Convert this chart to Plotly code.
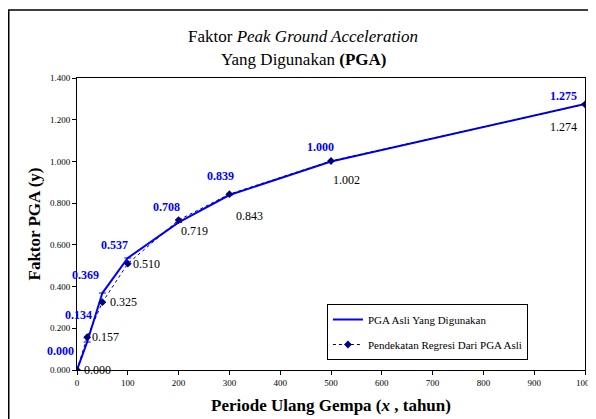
import plotly.graph_objects as go

# Data
periode = [0, 20, 50, 100, 200, 300, 500, 1000]
pga_asli = [0.000, 0.134, 0.369, 0.537, 0.708, 0.839, 1.000, 1.275]
pga_regresi = [0.000, 0.157, 0.325, 0.510, 0.719, 0.843, 1.002, 1.274]
x_ticks = [0, 100, 200, 300, 400, 500, 600, 700, 800, 900, 1000]
y_ticks = [0.0, 0.2, 0.4, 0.6, 0.8, 1.0, 1.2, 1.4]

FONT = "Liberation Serif"

fig = go.Figure()
fig.add_trace(go.Scatter(
    x=periode, y=pga_asli, mode="lines+markers",
    name="PGA Asli Yang Digunakan", legendgroup="a",
    line=dict(color="#0000FF", width=2),
    marker=dict(symbol="line-ew", size=5, color="#0000FF", line=dict(color="#0000FF", width=1)),
))
fig.add_trace(go.Scatter(
    x=periode, y=pga_regresi, mode="lines+markers",
    name="Pendekatan Regresi Dari PGA Asli", legendgroup="b",
    line=dict(color="#000080", width=1, dash="dot"),
    marker=dict(symbol="diamond", size=6, color="#000080"),
))

# label offsets (pixels) for blue (asli) and black (regresi) labels
blue_off = [(-17, 19), (-9, 27), (-17, 18), (-13, 13), (-12, 15), (-9, 19), (-11, 14), (-22, 8)]
black_off = [(20, 0), (18, 0), (21, 0), (19, 0), (16, -11), (20, -22), (15, -19), (-22, -23)]

annotations = []
for xv, yv, (dx, dy) in zip(periode, pga_asli, blue_off):
    annotations.append(dict(x=xv, y=yv, xref="x", yref="y", text=f"<b>{yv:.3f}</b>",
                            showarrow=False, xshift=dx, yshift=dy,
                            font=dict(family=FONT, size=12, color="#0000FF")))
for xv, yv, (dx, dy) in zip(periode, pga_regresi, black_off):
    annotations.append(dict(x=xv, y=yv, xref="x", yref="y", text=f"{yv:.3f}",
                            showarrow=False, xshift=dx, yshift=dy,
                            font=dict(family=FONT, size=12, color="#000000")))

annotations.append(dict(x=0.5, y=1.0, xref="paper", yref="paper", yanchor="middle",
                        xanchor="center", text="Faktor <i>Peak Ground Acceleration</i>",
                        showarrow=False, yshift=42, xshift=-28,
                        font=dict(family=FONT, size=17, color="#000000")))
annotations.append(dict(x=0.5, y=1.0, xref="paper", yref="paper", yanchor="middle",
                        xanchor="center", text="Yang Digunakan <b>(PGA)</b>",
                        showarrow=False, yshift=19, xshift=-28,
                        font=dict(family=FONT, size=17, color="#000000")))

fig.update_layout(
    width=588, height=411,
    margin=dict(l=69, r=11, t=70, b=49),
    paper_bgcolor="white", plot_bgcolor="white",
    font=dict(family=FONT, color="#000000"),
    showlegend=True,
    legend=dict(x=0.492, y=0.226, xanchor="left", yanchor="top",
                bgcolor="white", bordercolor="#000000", borderwidth=1,
                font=dict(family=FONT, size=11, color="#000000"),
                tracegroupgap=6),
    annotations=annotations,
    xaxis=dict(range=[0, 1000], tickvals=x_ticks, ticks="outside", ticklen=4,
               tickcolor="#000000", showgrid=False, zeroline=False, automargin=False,
               showline=True, linecolor="#000000", linewidth=1, mirror=True,
               tickfont=dict(family=FONT, size=9, color="#000000"),
               title=dict(text="<b>Periode Ulang Gempa (<i>x</i> , tahun)</b>",
                          font=dict(family=FONT, size=17, color="#000000"), standoff=12)),
    yaxis=dict(range=[0, 1.4], tickvals=y_ticks, tickformat=".3f", ticks="outside", ticklen=4,
               tickcolor="#000000", showgrid=False, zeroline=False, automargin=False,
               showline=True, linecolor="#000000", linewidth=1, mirror=True,
               tickfont=dict(family=FONT, size=9, color="#000000"),
               title=dict(text="<b>Faktor PGA (y)</b>",
                          font=dict(family=FONT, size=17, color="#000000"), standoff=5)),
    shapes=[dict(type="rect", xref="paper", yref="paper",
                 x0=(0.75 - 69) / 508, x1=1.2, y0=-0.3, y1=(362 - 2) / 292,
                 line=dict(color="#000000", width=1.5), layer="below")],
)

fig.write_html("out.html")
